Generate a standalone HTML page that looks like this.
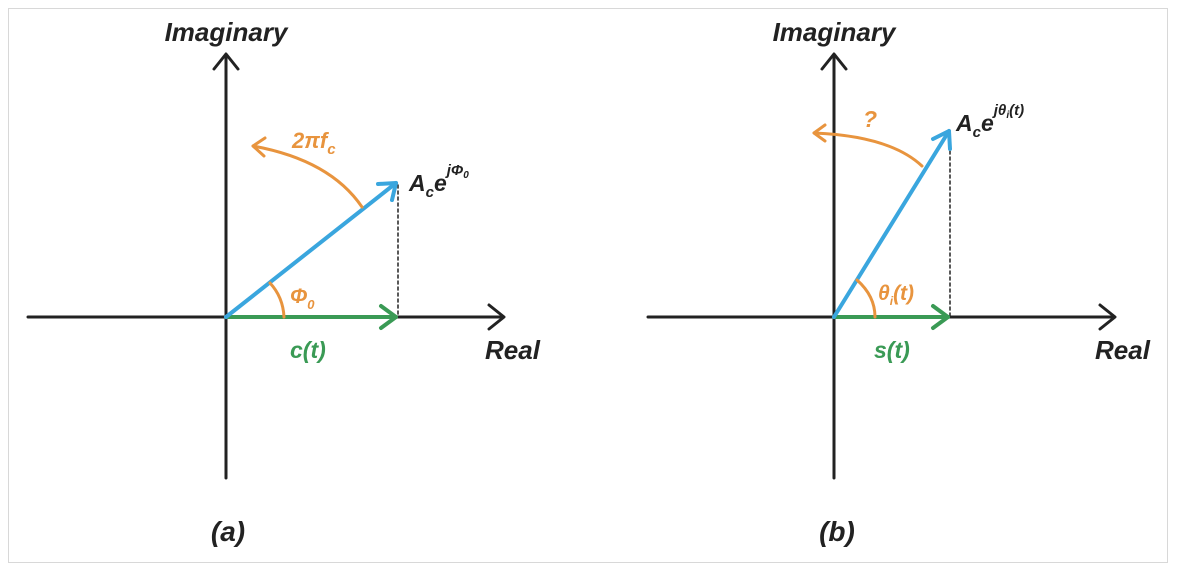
<!DOCTYPE html>
<html><head><style>
body{margin:0;background:#fff;}
svg{display:block;}
text{font-family:"Liberation Sans",sans-serif;font-weight:bold;font-style:italic;}
</style></head><body>
<svg width="1182" height="573" viewBox="0 0 1182 573" xmlns="http://www.w3.org/2000/svg">
<rect x="8.5" y="8.5" width="1159" height="554" fill="#fff" stroke="#d8d8d8"/>
<g fill="none" stroke-linecap="round" stroke-linejoin="round">
<line x1="28" y1="317" x2="503" y2="317" stroke="#222" stroke-width="3"/>
<polyline points="489,305 504,317 489,329" stroke="#222" stroke-width="3"/>
<line x1="226" y1="478" x2="226" y2="55" stroke="#222" stroke-width="3"/>
<polyline points="214,69 226,54 238,69" stroke="#222" stroke-width="3"/>
<line x1="398" y1="185" x2="398" y2="317" stroke="#222" stroke-width="1.5" stroke-dasharray="3,3"/>
<line x1="226" y1="317" x2="396" y2="317" stroke="#3a9a55" stroke-width="4"/>
<polyline points="381,306 396,317 381,328" stroke="#3a9a55" stroke-width="4"/>
<line x1="226" y1="317" x2="396" y2="183" stroke="#3aa6de" stroke-width="4"/>
<polyline points="378,184 396,183 392,200" stroke="#3aa6de" stroke-width="4"/>
<path d="M362,207 Q330,160 253,146" stroke="#e8943e" stroke-width="3"/>
<polyline points="265,138 253,146 264,156" stroke="#e8943e" stroke-width="3"/>
<path d="M284,317 Q283,297 270,283" stroke="#e8943e" stroke-width="3"/>
<line x1="648" y1="317" x2="1114" y2="317" stroke="#222" stroke-width="3"/>
<polyline points="1100,305 1115,317 1100,329" stroke="#222" stroke-width="3"/>
<line x1="834" y1="478" x2="834" y2="55" stroke="#222" stroke-width="3"/>
<polyline points="822,69 834,54 846,69" stroke="#222" stroke-width="3"/>
<line x1="950" y1="133" x2="950" y2="317" stroke="#222" stroke-width="1.5" stroke-dasharray="3,3"/>
<line x1="834" y1="317" x2="948" y2="317" stroke="#3a9a55" stroke-width="4"/>
<polyline points="933,306 948,317 933,328" stroke="#3a9a55" stroke-width="4"/>
<line x1="834" y1="317" x2="949" y2="131" stroke="#3aa6de" stroke-width="4"/>
<polyline points="933,139 949,131 950,149" stroke="#3aa6de" stroke-width="4"/>
<path d="M922,166 Q890,136 814,133" stroke="#e8943e" stroke-width="3"/>
<polyline points="825,125 814,133 825,141" stroke="#e8943e" stroke-width="3"/>
<path d="M875,317 Q875,296 857,280" stroke="#e8943e" stroke-width="3"/>
</g>
<text x="226" y="41" font-size="26" text-anchor="middle" fill="#222">Imaginary</text>
<text x="485" y="359" font-size="26" fill="#222">Real</text>
<text x="290" y="303" font-size="21" fill="#e8943e">Φ<tspan font-size="13" dy="6">0</tspan></text>
<text x="290" y="358" font-size="23" fill="#3a9a55">c(t)</text>
<text x="292" y="148" font-size="22" fill="#e8943e">2πf<tspan font-size="15" dy="6">c</tspan></text>
<text x="409" y="191" font-size="23" fill="#222">A<tspan font-size="15" dy="6">c</tspan><tspan dy="-6">e</tspan><tspan font-size="15" dy="-16">jΦ</tspan><tspan font-size="10" dy="3">0</tspan></text>
<text x="228" y="541" font-size="28" text-anchor="middle" fill="#222">(a)</text>
<text x="834" y="41" font-size="26" text-anchor="middle" fill="#222">Imaginary</text>
<text x="1095" y="359" font-size="26" fill="#222">Real</text>
<text x="878" y="300" font-size="21" fill="#e8943e">θ<tspan font-size="12" dy="5">i</tspan><tspan dy="-5">(t)</tspan></text>
<text x="874" y="358" font-size="23" fill="#3a9a55">s(t)</text>
<text x="863" y="127" font-size="23" fill="#e8943e">?</text>
<text x="956" y="131" font-size="23" fill="#222">A<tspan font-size="15" dy="6">c</tspan><tspan dy="-6">e</tspan><tspan font-size="15" dy="-16">jθ</tspan><tspan font-size="10" dy="3">i</tspan><tspan font-size="15" dy="-3">(t)</tspan></text>
<text x="837" y="541" font-size="28" text-anchor="middle" fill="#222">(b)</text>
</svg>
</body></html>
